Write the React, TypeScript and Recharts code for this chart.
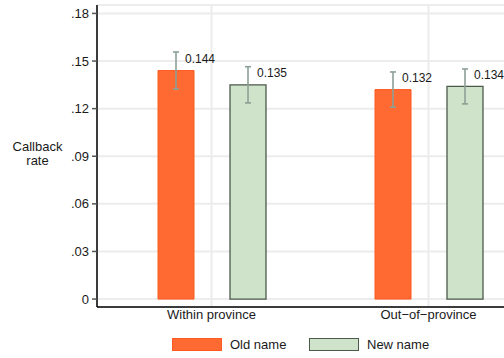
import React from "react";
import {
  BarChart,
  Bar,
  XAxis,
  YAxis,
  CartesianGrid,
  ErrorBar,
  LabelList,
  Legend,
} from "recharts";

const FONT = '"Liberation Sans", Arial, Helvetica, sans-serif';

// Callback rates by applicant name type
const categories = ["Within province", "Out\u2212of\u2212province"];
const oldNameRate = [0.144, 0.132];
const newNameRate = [0.135, 0.134];
// Half-width of the confidence interval around each rate
const oldNameErr = [0.0117, 0.0111];
const newNameErr = [0.0114, 0.011];
const yTicks = [0, 0.03, 0.06, 0.09, 0.12, 0.15, 0.18];
const seriesNames = ["Old name", "New name"];

const OLD_FILL = "#ff6a33";
const OLD_STROKE = "#ff5a1f";
const NEW_FILL = "#cfe3cb";
const NEW_STROKE = "#4b5a4b";
const CI_COLOR = "#8ca096";
const GRID = "#ececec";

const data = categories.map((category, i) => ({
  category,
  oldName: oldNameRate[i],
  newName: newNameRate[i],
  oldErr: oldNameErr[i],
  newErr: newNameErr[i],
}));

const formatY = (v: number) => (v === 0 ? "0" : v.toFixed(2).replace(/^0/, ""));

const ValueLabel = (props: any) => {
  const { x, y, width, value } = props;
  return (
    <text
      x={Number(x) + Number(width) / 2 + 9}
      y={Number(y) - 12 + 4.3}
      fontSize={12}
      fontFamily={FONT}
      fill="#1a1a1a"
    >
      {Number(value).toFixed(3)}
    </text>
  );
};

const YTitle = (props: any) => {
  const vb = props.viewBox || { x: 0, y: 0, width: 97, height: 302 };
  const cx = 37.5;
  const cy = vb.y + vb.height / 2 - 2.5;
  return (
    <text textAnchor="middle" fontSize={13} fontFamily={FONT} fill="#1a1a1a">
      <tspan x={cx} y={cy - 2.5}>Callback</tspan>
      <tspan x={cx} y={cy + 11.5}>rate</tspan>
    </text>
  );
};

const LegendContent = (props: any) => {
  const payload = [...(props.payload || [])].sort(
    (a: any, b: any) => seriesNames.indexOf(a.value) - seriesNames.indexOf(b.value)
  );
  const swatchLefts = [172, 309];
  const strokes: Record<string, string> = { [seriesNames[0]]: OLD_STROKE, [seriesNames[1]]: NEW_STROKE };
  return (
    <div style={{ position: "relative", width: 540, height: 27, fontFamily: FONT, fontSize: 13, color: "#1a1a1a" }}>
      {payload.map((entry: any, i: number) => (
        <React.Fragment key={entry.value}>
          <div
            style={{
              position: "absolute",
              left: swatchLefts[i],
              top: 7,
              width: 50,
              height: 13,
              boxSizing: "border-box",
              background: entry.color,
              border: `1.2px solid ${strokes[entry.value] || entry.color}`,
            }}
          />
          <div style={{ position: "absolute", left: swatchLefts[i] + 58, top: 0, lineHeight: "27px", whiteSpace: "nowrap" }}>
            {entry.value}
          </div>
        </React.Fragment>
      ))}
    </div>
  );
};

export default function App() {
  return (
    <div style={{ position: "fixed", left: 0, top: 0, width: 504, height: 358, overflow: "hidden", background: "#fff" }}>
      <BarChart
        width={540}
        height={358}
        data={data}
        margin={{ top: 5, right: 0, left: 0, bottom: 0 }}
        barSize={36}
        barGap={36}
      >
        <CartesianGrid stroke={GRID} strokeWidth={2} horizontal vertical />
        <XAxis
          dataKey="category"
          type="category"
          height={24}
          padding={{ left: 6, right: 3 }}
          interval={0}
          tickLine={false}
          tickSize={0}
          tickMargin={3}
          axisLine={{ stroke: "#000", strokeWidth: 1.5 }}
          tick={{ fontSize: 13, fontFamily: FONT, fill: "#1a1a1a" }}
        />
        <YAxis
          type="number"
          width={97}
          domain={[-0.005, 0.1853]}
          allowDataOverflow
          ticks={yTicks}
          tickFormatter={formatY}
          tickSize={5}
          tickMargin={3}
          axisLine={{ stroke: "#000", strokeWidth: 1.5 }}
          tickLine={{ stroke: "#555", strokeWidth: 1.5 }}
          tick={{ fontSize: 13, fontFamily: FONT, fill: "#1a1a1a" }}
          label={{ content: (p: any) => <YTitle {...p} /> }}
        />
        <Legend
          verticalAlign="bottom"
          height={27}
          wrapperStyle={{ left: 0, top: 331, width: 540, height: 27 }}
          content={(p: any) => <LegendContent {...p} />}
        />
        <Bar
          dataKey="oldName"
          name={seriesNames[0]}
          fill={OLD_FILL}
          stroke={OLD_STROKE}
          strokeWidth={1}
          isAnimationActive={false}
        >
          <ErrorBar dataKey="oldErr" width={3} stroke={CI_COLOR} strokeWidth={1.6} direction="y" />
          <LabelList dataKey="oldName" content={(p: any) => <ValueLabel {...p} />} />
        </Bar>
        <Bar
          dataKey="newName"
          name={seriesNames[1]}
          fill={NEW_FILL}
          stroke={NEW_STROKE}
          strokeWidth={1.3}
          isAnimationActive={false}
        >
          <ErrorBar dataKey="newErr" width={3} stroke={CI_COLOR} strokeWidth={1.6} direction="y" />
          <LabelList dataKey="newName" content={(p: any) => <ValueLabel {...p} />} />
        </Bar>
      </BarChart>
    </div>
  );
}
